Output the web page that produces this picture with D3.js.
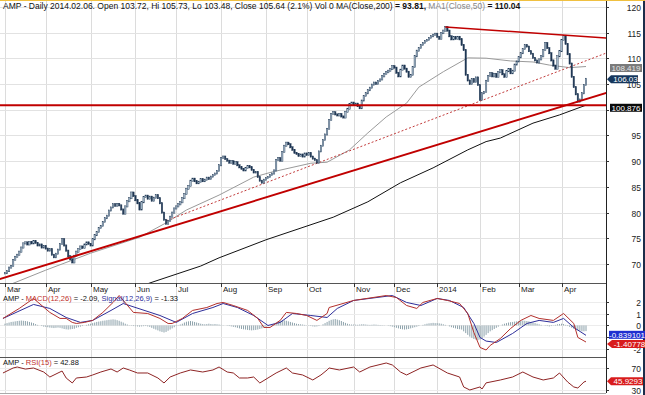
<!DOCTYPE html>
<html>
<head>
<meta charset="utf-8">
<script src="https://cdn.jsdelivr.net/npm/d3@7"></script>
<style>
body { margin: 0; background: #fff; }
svg { display: block; font-family: "Liberation Sans", Arial, sans-serif; }
</style>
</head>
<body>
<script>
// daily closes, one array per month (trading days)
var closeMar13 = [68.2,68.6,69.3,69.6,70.8,71.4,71.8,72.4,73.2,74.0,74.2,73.8,74.3,74.0,74.4,74.1,73.6,73.8,73.2,73.5];
var closeApr13 = [73.0,72.6,72.9,71.8,71.3,72.0,72.8,73.9,74.8,73.6,72.6,71.5,70.9,70.3,71.6,72.4,72.9,73.4,73.1,73.8,74.2,73.9];
var closeMay13 = [73.6,74.8,75.6,76.2,77.0,77.4,78.2,78.9,79.4,80.4,81.0,81.6,81.3,81.7,81.4,80.6,79.8,81.2,82.2,82.8,83.9,83.2];
var closeJun13 = [82.4,81.8,80.6,82.0,83.0,83.3,82.7,83.1,82.3,82.9,83.4,82.8,81.8,80.0,78.6,77.8,78.4,79.2,80.0,80.8];
var closeJul13 = [81.2,81.6,82.0,82.8,83.6,84.6,85.2,86.2,86.6,86.1,85.7,86.0,86.5,86.1,86.4,86.8,86.5,87.0,87.3,87.6,88.1,89.2];
var closeAug13 = [90.6,90.9,90.4,90.1,89.7,90.0,89.5,89.8,89.2,88.8,88.5,88.2,88.7,89.0,88.8,88.3,87.8,87.9,86.9,86.2,85.8,86.4];
var closeSep13 = [86.7,86.9,87.3,87.6,88.2,90.2,90.6,90.1,91.8,93.0,93.6,93.3,92.7,92.2,91.6,91.4,91.0,91.3,90.9,91.5];
var closeOct13 = [91.2,91.6,90.9,90.5,90.2,89.7,91.9,93.0,94.1,95.2,96.3,98.0,99.2,99.5,99.1,98.9,99.2,98.7,98.5,99.6,100.2,101.1,101.4];
var closeNov13 = [100.9,101.2,100.7,100.3,101.8,102.7,103.2,103.8,104.3,104.9,105.3,105.0,105.6,105.9,106.5,107.0,107.3,107.6,107.9,108.5];
var closeDec13 = [108.2,107.2,106.5,107.8,108.6,108.0,107.4,106.4,106.8,108.3,110.4,111.5,112.0,112.6,113.0,113.4,113.6,114.0,114.3,114.6,114.8];
var closeJan14 = [114.2,113.8,114.9,115.4,116.1,115.4,114.3,113.7,114.1,113.8,114.2,113.7,112.6,111.6,106.8,105.7,105.0,106.0,105.4,106.3,104.8];
var closeFeb14 = [101.9,103.2,103.5,105.64,106.6,107.1,106.5,107.0,106.4,107.3,107.7,106.9,106.4,107.5,107.9,107.1,107.6,108.8,109.4];
var closeMar14 = [110.2,111.0,111.8,112.6,112.3,111.4,110.9,110.1,109.6,109.2,109.8,110.4,111.6,113.0,112.0,111.0,109.6,108.6,108.0,110.4,111.4];
var closeApr14 = [113.6,114.4,112.8,110.8,109.0,106.4,104.4,103.0,101.6,102.0,103.2,104.8,106.03];

var monthLabels = ["Mar","Apr","May","Jun","Jul","Aug","Sep","Oct","Nov","Dec","2014","Feb","Mar","Apr"];

// moving averages [day index, value]
var ma50 = [[0,65.6],[20,68.8],[42,72.1],[66,75.2],[79,78.0],[89,80.5],[105,83.4],[122,86.9],[131,87.9],[150,89.6],[158,89.8],[169,92.2],[178,95.5],[187,98.6],[197,101.3],[203,104.4],[215,107.4],[227,110.1],[236,110.04],[248,109.5],[259,109.3],[267,108.7],[277,108.2],[285,108.42]];
var ma200 = [[62,65.0],[71,66.3],[96,69.6],[105,71.2],[128,74.7],[161,79.1],[178,82.1],[194,85.8],[210,88.7],[227,92.2],[236,93.81],[243,94.5],[259,97.4],[272,99.0],[285,100.9]];

// drawn trend lines [day index, price]
var supportLine = [[-3,67.0],[295,103.3]];
var dottedLine = [[79,78.4],[295,111.05]];
var topLine = [[216,116.1],[295,113.97]];
var flatLine = [[-3,100.876],[295,100.876]];

// MACD panel [day index, value]
var macdLine = [[-1,0.60],[7,1.45],[14,2.30],[22,1.11],[27,0.60],[30,0.60],[33,0.26],[35,0.17],[39,0.26],[43,0.43],[48,1.11],[53,1.96],[56,2.55],[63,1.11],[70,1.02],[76,0.60],[80,0.17],[82,0.17],[87,0.60],[92,1.28],[99,1.53],[104,1.87],[107,1.96],[112,1.70],[119,1.28],[124,0.60],[127,-0.17],[130,-0.17],[135,0.43],[138,1.11],[143,1.02],[148,0.85],[153,0.43],[158,1.02],[159,1.53],[171,2.13],[187,2.55],[192,2.38],[197,1.70],[202,1.45],[205,1.96],[212,2.30],[217,2.13],[223,1.87],[227,1.02],[230,-0.60],[233,-1.87],[236,-2.09],[238,-1.70],[243,-1.11],[248,-0.26],[253,0.43],[258,0.85],[262,0.60],[269,0.43],[274,1.02],[279,0.17],[281,-1.02],[285,-1.41]];
var signalLine = [[-1,0.60],[14,1.79],[22,1.45],[30,0.68],[37,0.26],[43,0.43],[52,1.28],[58,1.87],[76,0.85],[84,0.26],[92,1.02],[102,1.53],[107,1.87],[114,1.53],[122,0.85],[129,0],[135,0.26],[141,1.02],[150,0.85],[158,0.68],[163,1.45],[171,2.13],[190,2.55],[197,1.96],[204,1.70],[212,2.30],[218,2.13],[225,1.53],[230,0.17],[233,-1.02],[236,-1.33],[241,-1.45],[249,-0.68],[256,0.17],[262,0.43],[269,0.26],[274,0.60],[279,-0.17],[285,-0.84]];

// MACD histogram, one array per month
var histMar13 = [0.15,0.2,0.25,0.3,0.32,0.35,0.38,0.4,0.42,0.4,0.38,0.35,0.3,0.25,0.2,0.12,0.05,0.0,-0.05,-0.1];
var histApr13 = [-0.12,-0.15,-0.18,-0.2,-0.22,-0.2,-0.18,-0.2,-0.25,-0.3,-0.33,-0.35,-0.33,-0.3,-0.28,-0.2,-0.15,-0.1,-0.05,0.0,0.05,0.1];
var histMay13 = [0.15,0.2,0.25,0.3,0.33,0.36,0.4,0.42,0.45,0.48,0.5,0.52,0.5,0.45,0.4,0.32,0.25,0.15,0.08,0.02,-0.03,-0.05];
var histJun13 = [-0.06,-0.08,-0.1,-0.08,-0.06,-0.05,-0.08,-0.12,-0.2,-0.28,-0.35,-0.42,-0.5,-0.55,-0.6,-0.55,-0.45,-0.35,-0.25,-0.15];
var histJul13 = [-0.05,0.02,0.08,0.15,0.25,0.32,0.35,0.38,0.35,0.3,0.25,0.2,0.15,0.12,0.1,0.12,0.15,0.12,0.1,0.12,0.1,0.08];
var histAug13 = [0.05,0.02,0.0,-0.03,-0.05,-0.08,-0.12,-0.15,-0.2,-0.25,-0.3,-0.33,-0.35,-0.38,-0.4,-0.42,-0.4,-0.38,-0.35,-0.3,-0.25,-0.18];
var histSep13 = [-0.1,-0.05,0.0,0.05,0.15,0.25,0.35,0.42,0.45,0.43,0.4,0.35,0.3,0.25,0.2,0.15,0.12,0.1,0.08,0.05];
var histOct13 = [0.02,-0.03,-0.05,-0.08,-0.1,-0.08,-0.05,0.0,0.1,0.2,0.3,0.4,0.48,0.52,0.55,0.5,0.45,0.38,0.3,0.22,0.15,0.1,0.08];
var histNov13 = [0.08,0.07,0.06,0.08,0.1,0.1,0.08,0.06,0.05,0.06,0.08,0.07,0.05,0.04,0.03,0.02,0.0,-0.03,-0.06,-0.1];
var histDec13 = [-0.15,-0.2,-0.25,-0.3,-0.33,-0.35,-0.33,-0.3,-0.25,-0.2,-0.15,-0.1,-0.05,0.0,0.05,0.1,0.15,0.18,0.2,0.22,0.2];
var histJan14 = [0.2,0.18,0.15,0.1,0.05,0.0,-0.08,-0.15,-0.2,-0.25,-0.3,-0.32,-0.35,-0.5,-0.65,-0.8,-0.95,-1.05,-1.15,-1.2,-1.25];
var histFeb14 = [-1.2,-1.1,-0.95,-0.8,-0.65,-0.5,-0.4,-0.3,-0.2,-0.1,0.0,0.08,0.15,0.2,0.25,0.28,0.3,0.33,0.35];
var histMar14 = [0.38,0.4,0.42,0.4,0.38,0.35,0.3,0.25,0.2,0.15,0.1,0.05,0.0,-0.03,-0.05,-0.08,-0.05,-0.02,0.05,0.1,0.12];
var histApr14 = [0.15,0.12,0.05,-0.05,-0.12,-0.2,-0.28,-0.35,-0.4,-0.45,-0.5,-0.5,-0.48];

// RSI(15) [day index, value]
var rsi = [[-1,60.9],[4,70],[6,71.8],[10,68],[14,70],[19,62.7],[22,53.6],[26,60.9],[28,64.5],[30,51.8],[33,42.7],[35,51.8],[40,53.6],[43,57.3],[47,62.7],[52,68.2],[55,62.7],[58,70],[61,66.4],[65,60.9],[70,60.9],[75,51.8],[78,42.7],[81,53.6],[86,60.9],[91,66.4],[97,62.7],[102,66.4],[105,71.8],[109,62.7],[112,60.9],[115,51.8],[119,51.8],[122,53.6],[125,42.7],[129,51.8],[133,60.9],[138,70],[141,60.9],[146,57.3],[151,48.2],[155,57.3],[158,66.4],[159,70],[164,66.4],[171,71.8],[174,62.7],[179,71.8],[187,79.1],[190,75.5],[194,62.7],[197,57.3],[204,70],[210,75.5],[217,60.9],[223,53.6],[225,35.5],[228,30],[233,35.5],[234,31.8],[236,42.9],[243,48.2],[249,53.6],[254,62.7],[259,53.6],[264,48.2],[269,51.8],[272,60.9],[276,44.5],[279,35.5],[281,33.6],[284,44.5],[285,45.93]];

var priceTicks = [70,75,80,85,90,95,100,105,110,115,120];
var macdTicks = [2,1,0,-1,-2];
var rsiTicks = [70,30];
// tick labels covered by the value boxes in the picture
var hiddenLabels = [100, -1];

// ---- layout
var w = 645, h = 395;
var plotR = 606;
var mainTop = 2, mainBot = 283;
var macdTop = 292, macdBot = 356;
var rsiTop = 357, rsiBot = 393;

var months = [closeMar13,closeApr13,closeMay13,closeJun13,closeJul13,closeAug13,closeSep13,closeOct13,closeNov13,closeDec13,closeJan14,closeFeb14,closeMar14,closeApr14];
var hists = [histMar13,histApr13,histMay13,histJun13,histJul13,histAug13,histSep13,histOct13,histNov13,histDec13,histJan14,histFeb14,histMar14,histApr14];
var closes = months.flat();
var hist = hists.flat();
var monthStart = [];
var n0 = 0;
months.forEach(function(m) { monthStart.push(n0); n0 += m.length; });

var x = d3.scaleLinear().domain([0, closes.length - 1]).range([5, 586]);
var y = d3.scaleLinear().domain([66.3, 120.97]).range([mainBot, mainTop]);
var yM = d3.scaleLinear().domain([-2.6, 2.85]).range([macdBot, macdTop]);
var yR = d3.scaleLinear().domain([24.5, 90]).range([rsiBot, rsiTop]);

var svg = d3.select("body").append("svg").attr("width", w).attr("height", h);
svg.append("rect").attr("width", w).attr("height", h).attr("fill", "#fff");

var defs = svg.append("defs");
function clip(id, y0, y1) {
  defs.append("clipPath").attr("id", id).append("rect")
    .attr("x", 0).attr("y", y0).attr("width", plotR).attr("height", y1 - y0);
}
clip("cMain", mainTop - 2, mainBot);
clip("cMacd", macdTop, macdBot);
clip("cRsi", rsiTop, rsiBot);

// grid
var grid = svg.append("g");
grid.selectAll("line.v").data(monthStart).enter().append("line")
  .attr("x1", function(d) { return Math.round(x(d)) + 0.5; })
  .attr("x2", function(d) { return Math.round(x(d)) + 0.5; })
  .attr("y1", 0).attr("y2", rsiBot)
  .attr("stroke", "#dcdcdc");
grid.selectAll("line.h").data(priceTicks).enter().append("line")
  .attr("x1", 0).attr("x2", plotR)
  .attr("y1", function(d) { return Math.round(y(d)) + 0.5; })
  .attr("y2", function(d) { return Math.round(y(d)) + 0.5; })
  .attr("stroke", "#e2e2e2");
grid.selectAll("line.m").data(macdTicks).enter().append("line")
  .attr("x1", 0).attr("x2", plotR)
  .attr("y1", function(d) { return Math.round(yM(d)) + 0.5; })
  .attr("y2", function(d) { return Math.round(yM(d)) + 0.5; })
  .attr("stroke", "#ececec");
grid.selectAll("line.r").data(rsiTicks).enter().append("line")
  .attr("x1", 0).attr("x2", plotR)
  .attr("y1", function(d) { return Math.round(yR(d)) + 0.5; })
  .attr("y2", function(d) { return Math.round(yR(d)) + 0.5; })
  .attr("stroke", "#ececec");

// ---- main panel
var main = svg.append("g").attr("clip-path", "url(#cMain)");
var line = d3.line().x(function(d) { return x(d[0]); }).y(function(d) { return y(d[1]); });

main.append("path").attr("d", line(ma200)).attr("fill", "none").attr("stroke", "#111").attr("stroke-width", 1);
main.append("path").attr("d", line(ma50)).attr("fill", "none").attr("stroke", "#9a9a9a").attr("stroke-width", 1);
main.append("path").attr("d", line(dottedLine)).attr("fill", "none").attr("stroke", "#c23b3b")
  .attr("stroke-width", 1).attr("stroke-dasharray", "2,2");

var bars = main.append("g");
closes.forEach(function(c, i) {
  var o = i ? closes[i - 1] : c;
  var up = c >= o;
  var top = y(Math.max(o, c)), bot = y(Math.min(o, c));
  bars.append("rect")
    .attr("x", x(i) - 0.7).attr("width", 1.4)
    .attr("y", top - 0.6).attr("height", Math.max(1.4, bot - top + 1.2))
    .attr("fill", up ? "#aec2d2" : "#1d3552")
    .attr("stroke", "#1d3552").attr("stroke-width", 0.45);
});

main.append("path").attr("d", line(flatLine)).attr("fill", "none").attr("stroke", "#c00000").attr("stroke-width", 2);
main.append("path").attr("d", line(supportLine)).attr("fill", "none").attr("stroke", "#c00000").attr("stroke-width", 2);
main.append("path").attr("d", line(topLine)).attr("fill", "none").attr("stroke", "#c00000").attr("stroke-width", 1.6);

// ---- MACD panel
var mac = svg.append("g").attr("clip-path", "url(#cMacd)");
var lineM = d3.line().x(function(d) { return x(d[0]); }).y(function(d) { return yM(d[1]); });
mac.selectAll("line.hb").data(hist).enter().append("line")
  .attr("x1", function(d, i) { return x(i); })
  .attr("x2", function(d, i) { return x(i); })
  .attr("y1", yM(0))
  .attr("y2", function(d) { return yM(d); })
  .attr("stroke", "#8da2ab").attr("stroke-width", 1);
mac.append("path").attr("d", lineM(signalLine)).attr("fill", "none").attr("stroke", "#2e2e9a").attr("stroke-width", 1);
mac.append("path").attr("d", lineM(macdLine)).attr("fill", "none").attr("stroke", "#b3302c").attr("stroke-width", 1);

// ---- RSI panel
var rs = svg.append("g").attr("clip-path", "url(#cRsi)");
var lineR = d3.line().x(function(d) { return x(d[0]); }).y(function(d) { return yR(d[1]); });
rs.append("path").attr("d", lineR(rsi)).attr("fill", "none").attr("stroke", "#8e2424").attr("stroke-width", 1);

// ---- frames
svg.append("line").attr("x1", 0).attr("x2", plotR).attr("y1", mainBot + 0.5).attr("y2", mainBot + 0.5).attr("stroke", "#555");
svg.append("line").attr("x1", 0).attr("x2", plotR).attr("y1", rsiTop + 0.5).attr("y2", rsiTop + 0.5).attr("stroke", "#555");
svg.append("line").attr("x1", 0).attr("x2", plotR).attr("y1", rsiBot + 0.5).attr("y2", rsiBot + 0.5).attr("stroke", "#aaa");
svg.append("line").attr("x1", plotR + 0.5).attr("x2", plotR + 0.5).attr("y1", 0).attr("y2", rsiBot).attr("stroke", "#222");
svg.append("rect").attr("x", 643).attr("y", 0).attr("width", 2).attr("height", h).attr("fill", "#1c2d4a");
svg.append("rect").attr("x", 0).attr("y", 0).attr("width", w).attr("height", 1).attr("fill", "#f0c040");

// date labels
var dl = svg.append("g").attr("font-size", 8).attr("fill", "#222");
monthStart.forEach(function(s, k) {
  var xx = Math.round(x(s)) + 0.5;
  dl.append("line").attr("x1", xx).attr("x2", xx).attr("y1", mainBot).attr("y2", mainBot + 4).attr("stroke", "#333");
  dl.append("text").attr("x", xx + 1.5).attr("y", mainBot + 8.5).text(monthLabels[k]);
});

// right axes
function rightAxis(scale, ticks) {
  var g = svg.append("g");
  ticks.forEach(function(t) {
    var yy = Math.round(scale(t)) + 0.5;
    g.append("line").attr("x1", plotR).attr("x2", plotR + 3).attr("y1", yy).attr("y2", yy).attr("stroke", "#333");
    if (hiddenLabels.indexOf(t) < 0) {
      g.append("text").attr("x", 641).attr("y", yy + 3).attr("text-anchor", "end")
        .attr("font-size", 8.5).attr("fill", "#222").text(t);
    }
  });
}
rightAxis(y, priceTicks);
rightAxis(yM, macdTicks);
rightAxis(yR, rsiTicks);

// value boxes on the axis
function valueBox(yy, label, fill, color, arrow, x0, x1) {
  var g = svg.append("g");
  var hh = 4;
  if (arrow) {
    g.append("path").attr("d", "M" + (plotR + 1) + "," + yy + "L" + (x0) + "," + (yy - hh) + "L" + x1 + "," + (yy - hh) +
      "L" + x1 + "," + (yy + hh) + "L" + x0 + "," + (yy + hh) + "Z").attr("fill", fill);
  } else {
    g.append("rect").attr("x", x0).attr("y", yy - hh).attr("width", x1 - x0).attr("height", hh * 2).attr("fill", fill);
  }
  g.append("text").attr("x", (x0 + x1) / 2 + (arrow ? 1 : 0)).attr("y", yy + 3).attr("text-anchor", "middle")
    .attr("font-size", 8).attr("fill", color).text(label);
}
valueBox(y(108.419) + 1.5, "108.419", "#7a7a7a", "#e6e6e6", false, 610, 642);
valueBox(y(106.03) + 0.5, "106.03", "#15365c", "#fff", true, 611, 638);
valueBox(y(100.876) + 2.5, "100.876", "#0a0a0a", "#fff", false, 610, 642);
valueBox(yM(-0.839101) - 0.5, "-0.839101", "#1f2fd0", "#fff", false, 609, 645);
valueBox(yM(-1.40778) + 2, "-1.40778", "#d81c1c", "#fff", true, 612, 645);
valueBox(yR(45.9293), "45.9293", "#d81c1c", "#fff", true, 611, 643);

// titles
var t1 = svg.append("text").attr("x", 3).attr("y", 9).attr("font-size", 8.5).attr("fill", "#111");
t1.append("tspan").text("AMP - Daily 2014.02.06. Open 103.72, Hi 105.73, Lo 103.48, Close 105.64 (2.1%) Vol 0 MA(Close,200) ");
t1.append("tspan").attr("font-weight", "bold").text("= 93.81, ");
t1.append("tspan").attr("fill", "#888").text("MA1(Close,50) ");
t1.append("tspan").attr("font-weight", "bold").text("= 110.04");

var t2 = svg.append("text").attr("x", 3).attr("y", 301).attr("font-size", 7.5).attr("fill", "#111");
t2.append("tspan").text("AMP - ");
t2.append("tspan").attr("fill", "#c0302c").text("MACD(12,26)");
t2.append("tspan").text(" = -2.09, ");
t2.append("tspan").attr("fill", "#2e2e9a").text("Signal(12,26,9)");
t2.append("tspan").text(" = -1.33");

var t3 = svg.append("text").attr("x", 3).attr("y", 365).attr("font-size", 7.5).attr("fill", "#111");
t3.append("tspan").text("AMP - ");
t3.append("tspan").attr("fill", "#c0302c").text("RSI(15)");
t3.append("tspan").text(" = 42.88");
</script>
</body>
</html>
